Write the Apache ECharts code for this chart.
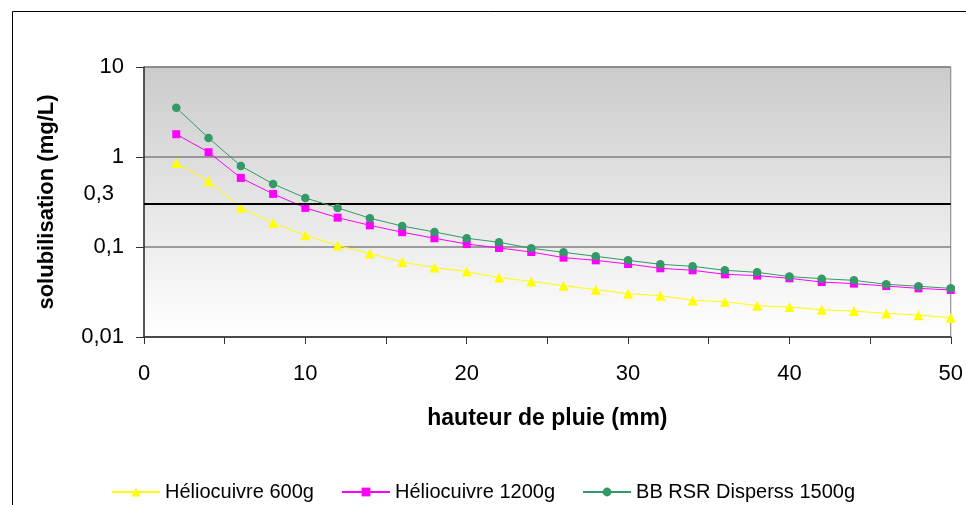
<!DOCTYPE html>
<html>
<head>
<meta charset="utf-8">
<script src="https://cdn.jsdelivr.net/npm/echarts@6/dist/echarts.min.js"></script>
<style>
  html, body { margin: 0; padding: 0; background: #ffffff; }
  #chart { width: 966px; height: 505px; }
</style>
</head>
<body>
<div id="chart"></div>
<script>
// Rainfall height (mm) at each sampling step
const hauteur = [2, 4, 6, 8, 10, 12, 14, 16, 18, 20, 22, 24, 26, 28, 30, 32, 34, 36, 38, 40, 42, 44, 46, 48, 50];

// Solubilised copper (mg/L) per product
const helio600 = [0.86, 0.538, 0.274, 0.185, 0.135, 0.104, 0.0845, 0.0681, 0.059, 0.0533, 0.0457, 0.0415, 0.0372, 0.0336, 0.0303, 0.0288, 0.0255, 0.0247, 0.0223, 0.0215, 0.0201, 0.0194, 0.0183, 0.0175, 0.0164];
const helio1200 = [1.79, 1.13, 0.586, 0.389, 0.272, 0.212, 0.174, 0.146, 0.125, 0.108, 0.0975, 0.088, 0.0762, 0.0711, 0.0647, 0.058, 0.0551, 0.0497, 0.0481, 0.0449, 0.0408, 0.0392, 0.0368, 0.0347, 0.0333];
const bbRsr1500 = [3.52, 1.63, 0.796, 0.502, 0.351, 0.272, 0.209, 0.171, 0.147, 0.125, 0.113, 0.0968, 0.0873, 0.0788, 0.0711, 0.0642, 0.061, 0.0551, 0.0523, 0.0469, 0.0445, 0.0426, 0.0385, 0.0366, 0.0347];

const seriesNames = ['Héliocuivre 600g', 'Héliocuivre 1200g', 'BB RSR Disperss 1500g'];

// Threshold line
const seuil = 0.3;
const seuilLabel = '0,3';

const pair = (ys) => hauteur.map((x, i) => [x, ys[i]]);
const fmt = (v) => String(v).replace('.', ',');
const FONT = '"Liberation Sans", Arial, sans-serif';

const chart = echarts.init(document.getElementById('chart'), null, { renderer: 'canvas' });

chart.setOption({
  animation: false,
  backgroundColor: '#ffffff',
  textStyle: { fontFamily: FONT, color: '#000' },
  graphic: [{
    type: 'rect',
    left: 10, top: 9,
    shape: { width: 1000, height: 600 },
    style: { fill: 'none', stroke: '#000', lineWidth: 1 },
    silent: true,
    z: -10
  }],
  grid: {
    left: 144, right: 11, top: 67, bottom: 168,
    show: true,
    borderColor: '#808080',
    borderWidth: 1,
    backgroundColor: {
      type: 'linear', x: 0, y: 0, x2: 0, y2: 1,
      colorStops: [{ offset: 0, color: '#cbcbcb' }, { offset: 1, color: '#ffffff' }]
    }
  },
  legend: {
    data: seriesNames,
    left: 'center',
    top: 477,
    itemWidth: 48,
    itemHeight: 11,
    itemGap: 27,
    textStyle: { fontFamily: FONT, fontSize: 20, color: '#000' }
  },
  xAxis: {
    type: 'value',
    min: 0, max: 50, interval: 5,
    name: 'hauteur de pluie (mm)',
    nameLocation: 'middle',
    nameGap: 70,
    nameTextStyle: { fontFamily: FONT, fontSize: 23, fontWeight: 'bold', color: '#000' },
    axisLine: { show: true, lineStyle: { color: '#333', width: 1.5 } },
    axisTick: { show: true, inside: false, length: 7, lineStyle: { color: '#333' } },
    axisLabel: {
      margin: 26,
      fontFamily: FONT, fontSize: 22, color: '#000',
      formatter: (v) => (v % 10 === 0 ? String(v) : '')
    },
    splitLine: { show: false }
  },
  yAxis: {
    type: 'log',
    logBase: 10,
    min: 0.01, max: 10,
    name: 'solubilisation (mg/L)',
    nameLocation: 'middle',
    nameGap: 86,
    nameTextStyle: { fontFamily: FONT, fontSize: 22, fontWeight: 'bold', color: '#000' },
    axisLine: { show: true, lineStyle: { color: '#333', width: 1.5 } },
    axisTick: { show: true, inside: false, length: 8, lineStyle: { color: '#333' } },
    axisLabel: {
      margin: 20,
      fontFamily: FONT, fontSize: 22, color: '#000',
      formatter: fmt
    },
    splitLine: { show: true, lineStyle: { color: '#808080', width: 1.5 } }
  },
  series: [
    {
      name: seriesNames[0],
      type: 'line',
      data: pair(helio600),
      symbol: 'triangle',
      symbolSize: 10,
      itemStyle: { color: '#ffff00' },
      lineStyle: { color: '#ffff00', width: 1 },
      z: 3,
      markLine: {
        silent: true,
        symbol: ['none', 'none'],
        lineStyle: { color: '#000', width: 2, type: 'solid' },
        label: {
          show: true,
          position: 'start',
          distance: 30,
          offset: [0, -10],
          fontFamily: FONT, fontSize: 22, color: '#000',
          formatter: seuilLabel
        },
        data: [{ yAxis: seuil }]
      }
    },
    {
      name: seriesNames[1],
      type: 'line',
      data: pair(helio1200),
      symbol: 'rect',
      symbolSize: 8,
      itemStyle: { color: '#ff00ff' },
      lineStyle: { color: '#ff00ff', width: 1 },
      z: 4
    },
    {
      name: seriesNames[2],
      type: 'line',
      data: pair(bbRsr1500),
      symbol: 'circle',
      symbolSize: 8.5,
      itemStyle: { color: '#339966' },
      lineStyle: { color: '#339966', width: 1 },
      z: 5
    }
  ]
});
</script>
</body>
</html>
